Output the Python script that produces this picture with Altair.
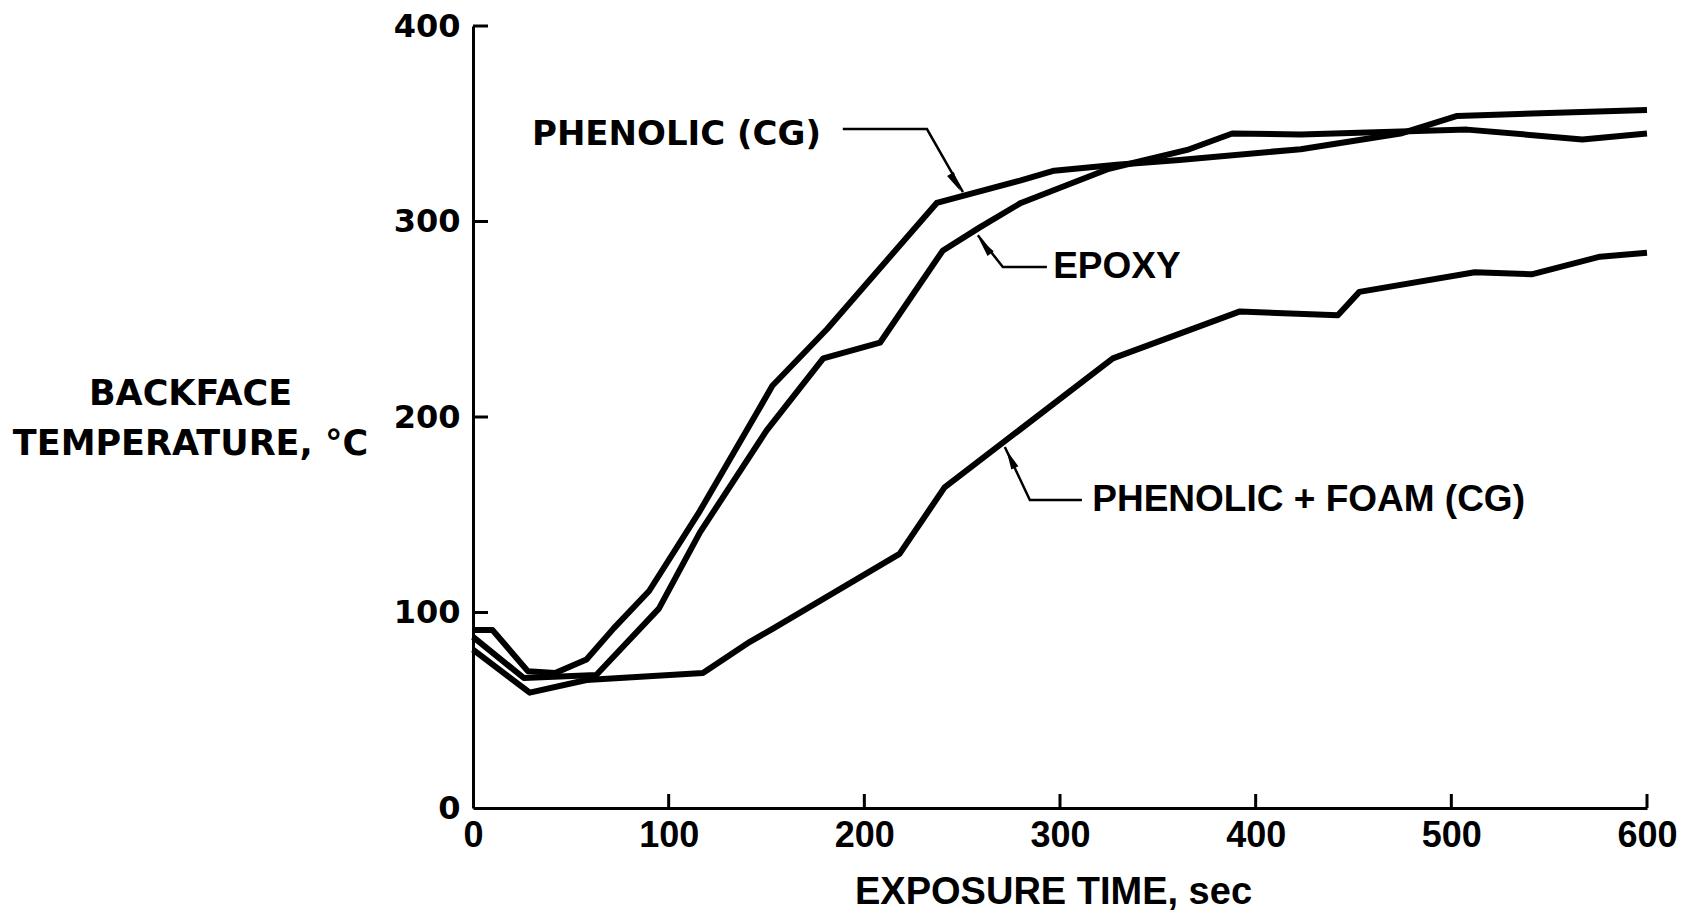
import altair as alt
import pandas as pd

# ---- data ----
t_phenolic = [0, 10, 28, 42, 58, 72, 90, 116, 145, 153, 181, 237, 280, 297, 329, 361, 423, 474, 503, 600]
y_phenolic = [91, 91, 70, 69, 76, 92, 111, 152, 202, 216, 245, 309.5, 321, 326, 329, 331.5, 337, 345, 354, 357]

t_epoxy = [0, 26, 63, 95, 116, 150, 179, 208, 240, 259, 280, 325, 365, 388, 423, 474, 508, 567, 600]
y_epoxy = [87.5, 66.5, 68, 102, 141, 193, 230, 238, 285, 297, 309.5, 327, 336.6, 345, 344.5, 346, 347, 342, 345]

t_foam = [0, 29, 58, 117.5, 141.5, 152, 218, 241, 327, 392, 442, 453, 512, 541, 576, 600]
y_foam = [81, 59, 65.5, 69, 85, 91, 130, 164, 230, 254, 252, 264, 274, 273, 282, 284]

x_ticks = [100, 200, 300, 400, 500, 600]
y_ticks = [100, 200, 300, 400]

# annotation labels (data coordinates)
lab_text = ["PHENOLIC (CG)", "EPOXY", "PHENOLIC + FOAM (CG)"]
lab_x = [104, 296.5, 316.5]
lab_y = [344, 276.7, 157.5]

# leader lines: label end -> elbow -> arrow tip
lead_series = ["p", "p", "p", "e", "e", "e", "f", "f", "f"]
lead_order = [0, 1, 2, 0, 1, 2, 0, 1, 2]
lead_x = [189, 232, 250.4, 293.3, 270.8, 258, 311.2, 284.6, 271.8]
lead_y = [347.3, 347.3, 315, 276.7, 276.7, 293, 157.5, 157.5, 184.7]

arrow_x = [246.5, 261.5, 274.8]
arrow_y = [320, 287.5, 178.5]
arrow_angle = [150, 322, 335]

# ---- build tables ----
curves = pd.concat([
    pd.DataFrame({"t": t_phenolic, "T": y_phenolic, "s": "PHENOLIC (CG)"}),
    pd.DataFrame({"t": t_epoxy, "T": y_epoxy, "s": "EPOXY"}),
    pd.DataFrame({"t": t_foam, "T": y_foam, "s": "PHENOLIC + FOAM (CG)"}),
])
labels = pd.DataFrame({"text": lab_text, "x": lab_x, "y": lab_y})
leads = pd.DataFrame({"s": lead_series, "o": lead_order, "x": lead_x, "y": lead_y})
arrows = pd.DataFrame({"x": arrow_x, "y": arrow_y, "a": arrow_angle})
xt = pd.DataFrame({"v": x_ticks})
yt = pd.DataFrame({"v": y_ticks})

W, H = 1174, 782
xs = alt.Scale(domain=[0, 600], nice=False, zero=False)
ys = alt.Scale(domain=[0, 400], nice=False, zero=False)

xaxis = alt.Axis(
    values=[0, 100, 200, 300, 400, 500, 600], format="d", ticks=False, tickSize=0,
    grid=False, domainColor="black", domainWidth=3,
    labelFont="Liberation Sans", labelFontWeight="bold", labelFontSize=36,
    labelColor="black", labelPadding=10, labelBaseline="top", labelFlush=False,
    title="EXPOSURE TIME, sec", titleFont="Liberation Sans", titleFontWeight="bold",
    titleFontSize=38, titleColor="black", titleX=580, titleY=84,
    titleAlign="center", titleBaseline="middle",
)
yaxis = alt.Axis(
    values=[0, 100, 200, 300, 400], format="d", ticks=False, tickSize=0,
    grid=False, domainColor="black", domainWidth=3,
    labelFont="DejaVu Sans", labelFontWeight="bold", labelFontSize=32,
    labelColor="black", labelPadding=13, labelFlush=False,
    title=["BACKFACE", "TEMPERATURE, °C"], titleFont="DejaVu Sans",
    titleFontWeight="bold", titleFontSize=35, titleColor="black",
    titleAngle=0, titleX=-283, titleY=367, titleAlign="center",
    titleBaseline="middle", titleLineHeight=50,
)

lines = alt.Chart(curves).mark_line(color="black", strokeWidth=6, strokeJoin="round").encode(
    x=alt.X("t:Q", scale=xs, axis=xaxis),
    y=alt.Y("T:Q", scale=ys, axis=yaxis),
    detail="s:N",
)

ytick_rules = alt.Chart(yt).mark_rule(color="black", strokeWidth=3).encode(
    y=alt.Y("v:Q", scale=ys), x=alt.value(0), x2=alt.value(15)
)
xtick_rules = alt.Chart(xt).mark_rule(color="black", strokeWidth=3).encode(
    x=alt.X("v:Q", scale=xs), y=alt.value(H), y2=alt.value(H - 14)
)

lead_lines = alt.Chart(leads).mark_line(color="black", strokeWidth=2.5).encode(
    x=alt.X("x:Q", scale=xs), y=alt.Y("y:Q", scale=ys), detail="s:N", order="o:Q"
)
arrow_pts = alt.Chart(arrows).mark_point(
    shape="M0,-1L0.4,1L-0.4,1Z", filled=True, color="black", opacity=1, size=380
).encode(
    x=alt.X("x:Q", scale=xs), y=alt.Y("y:Q", scale=ys), angle=alt.Angle("a:Q", scale=None)
)

txt_p = alt.Chart(labels.iloc[[0]]).mark_text(
    font="DejaVu Sans", fontWeight="bold", fontSize=34, align="center", baseline="middle", color="black"
).encode(x=alt.X("x:Q", scale=xs), y=alt.Y("y:Q", scale=ys), text="text:N")
txt_o = alt.Chart(labels.iloc[[1, 2]]).mark_text(
    font="Liberation Sans", fontWeight="bold", fontSize=37, align="left", baseline="middle", color="black"
).encode(x=alt.X("x:Q", scale=xs), y=alt.Y("y:Q", scale=ys), text="text:N")

chart = alt.layer(lines, ytick_rules, xtick_rules, lead_lines, arrow_pts, txt_p, txt_o).properties(
    width=W, height=H,
    autosize=alt.AutoSizeParams(type="none"),
    padding={"left": 473, "top": 26, "right": 42, "bottom": 108},
    background="white",
).configure_view(stroke=None)

chart.save("out.html", embed_options={"renderer": "svg", "actions": False})
